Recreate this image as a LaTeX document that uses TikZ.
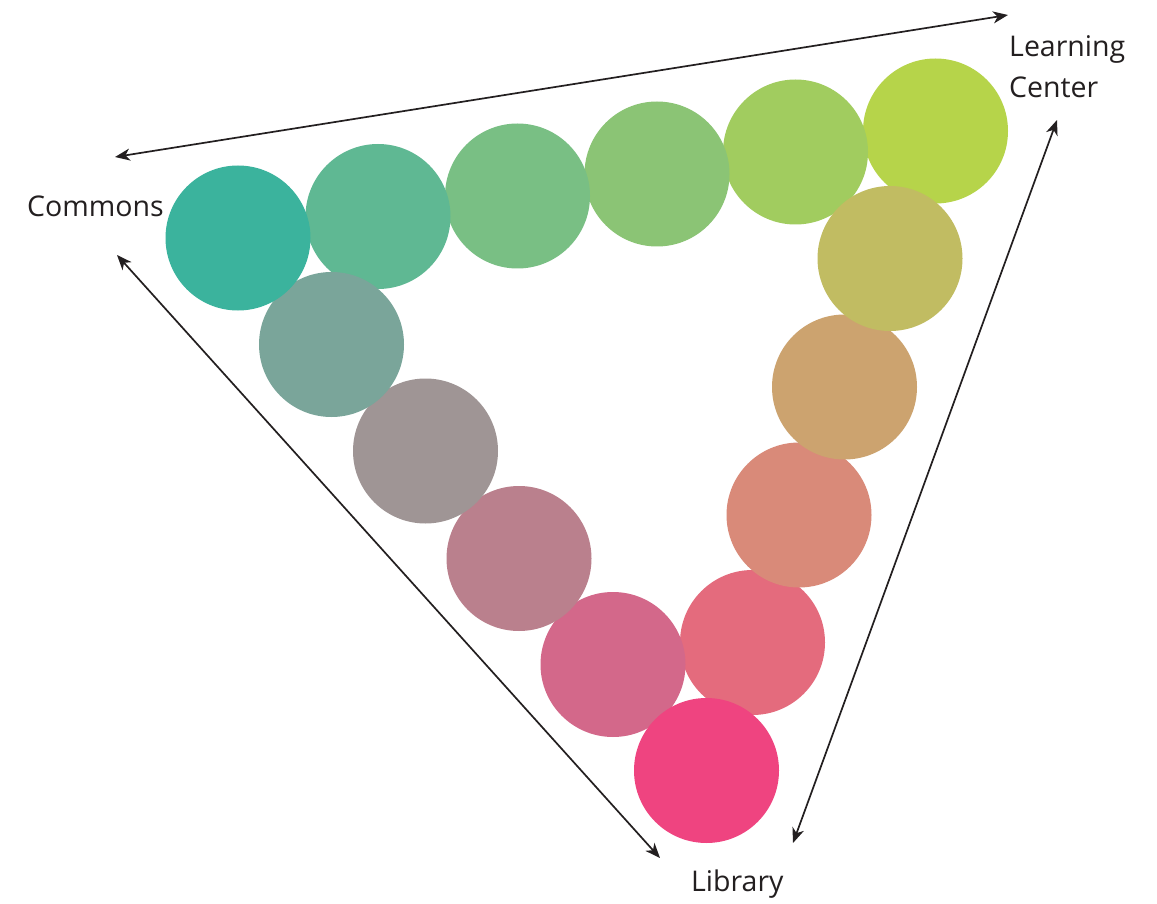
\documentclass[tikz,border=0pt]{standalone}
\usepackage{fontspec}
\setmainfont{Open Sans}
\usetikzlibrary{arrows.meta}
\definecolor{c1}{HTML}{3BB39D}
\definecolor{c2}{HTML}{5FB893}
\definecolor{c3}{HTML}{79BF84}
\definecolor{c4}{HTML}{8BC475}
\definecolor{c5}{HTML}{A1CC5F}
\definecolor{c6}{HTML}{B6D44A}
\definecolor{c7}{HTML}{C1BC62}
\definecolor{c8}{HTML}{CCA36F}
\definecolor{c9}{HTML}{D98A79}
\definecolor{c10}{HTML}{E46B7D}
\definecolor{c11}{HTML}{EF4480}
\definecolor{c12}{HTML}{D3688A}
\definecolor{c13}{HTML}{BA808D}
\definecolor{c14}{HTML}{9F9595}
\definecolor{c15}{HTML}{7AA59A}
\definecolor{ink}{HTML}{231F20}
\tikzset{
  dot/.style={circle, fill=#1, draw=none, minimum size=145pt, inner sep=0pt},
  lbl/.style={inner sep=0pt, text=ink, font=\fontsize{28.5pt}{41pt}\selectfont},
  dbl/.style={draw=ink, line width=1.7pt, {Stealth[length=15pt,width=12pt,inset=4.5pt]}-{Stealth[length=15pt,width=12pt,inset=4.5pt]}}
}
\begin{document}
\begin{tikzpicture}[x=1pt,y=-1pt]
\useasboundingbox[fill=white] (0,0) rectangle (1157,904);
% back to front
\node[dot=c6]  (n6)  at (935.5,131) {};
\node[dot=c5]  (n5)  at (795.5,152) {};
\node[dot=c4]  (n4)  at (657,174) {};
\node[dot=c3]  (n3)  at (517.5,196) {};
\node[dot=c2]  (n2)  at (378,216.5) {};
\node[dot=c10] (n10) at (752.5,642.5) {};
\node[dot=c9]  (n9)  at (799,515) {};
\node[dot=c8]  (n8)  at (844.5,387) {};
\node[dot=c7]  (n7)  at (890,258.5) {};
\node[dot=c12] (n12) at (613,664.5) {};
\node[dot=c13] (n13) at (519,558.5) {};
\node[dot=c14] (n14) at (425.5,451) {};
\node[dot=c15] (n15) at (331.5,344.5) {};
\node[dot=c1]  (n1)  at (238,238) {};
\node[dot=c11] (n11) at (706.5,770.5) {};
% labels
\node[lbl, anchor=base west] (commons) at (27,217) {Commons};
\node[lbl, anchor=base west, align=left] (lc) at (1009,98) {Learning\\Center};
\node[lbl, anchor=base west] (library) at (691,891) {Library};
% arrow ends
\coordinate (aT1) at (115,157);
\coordinate (aT2) at (1008,15);
\coordinate (aL1) at (117,255);
\coordinate (aL2) at (660,858);
\coordinate (aR1) at (1057,120);
\coordinate (aR2) at (793,843);
\draw[dbl] (aT1) -- (aT2);
\draw[dbl] (aL1) -- (aL2);
\draw[dbl] (aR1) -- (aR2);
\end{tikzpicture}
\end{document}
